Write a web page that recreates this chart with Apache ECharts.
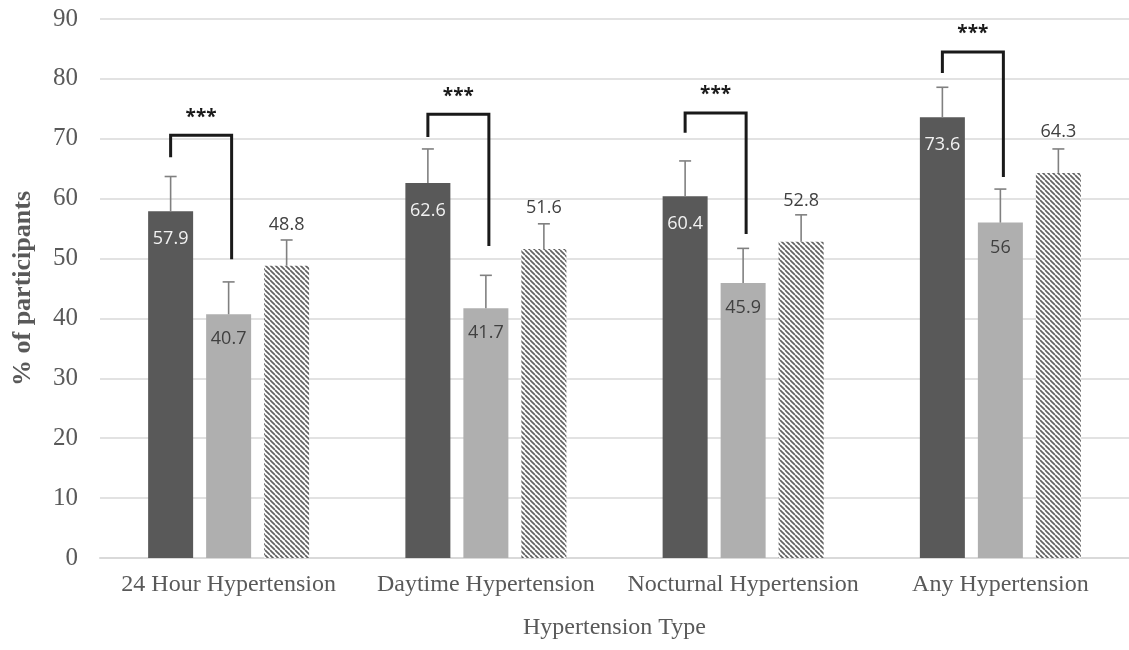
<!DOCTYPE html>
<html>
<head>
<meta charset="utf-8">
<style>
  html, body { margin: 0; padding: 0; background: #ffffff; }
  #chart { width: 1129px; height: 650px; }
</style>
<script src="https://cdn.jsdelivr.net/npm/echarts@6/dist/echarts.min.js"></script>
</head>
<body>
<div id="chart"></div>
<script>
// Hypertension prevalence by type, three groups per category
const categories = ['24 Hour Hypertension', 'Daytime Hypertension', 'Nocturnal Hypertension', 'Any Hypertension'];
const yTicks = [0, 10, 20, 30, 40, 50, 60, 70, 80, 90];

const darkValues = [57.9, 62.6, 60.4, 73.6];
const grayValues = [40.7, 41.7, 45.9, 56];
const hatchedValues = [48.8, 51.6, 52.8, 64.3];

// upper error bar lengths
const darkErrors = [5.8, 5.7, 5.9, 5.0];
const grayErrors = [5.4, 5.5, 5.8, 5.6];
const hatchedErrors = [4.3, 4.2, 4.5, 4.0];

// significance brackets between the dark and light grey bars
const bracketTop = [70.6, 74.1, 74.3, 84.5];
const bracketLeftEnd = [66.9, 70.3, 71.0, 81.0];
const bracketRightEnd = [49.9, 52.1, 54.1, 63.6];
const bracketMark = ['***', '***', '***', '***'];

const BAR_W = 45;
const BAR_GAP = 13;
const STEP = BAR_W + BAR_GAP;

const SERIF = '"Liberation Serif", "Times New Roman", serif';
const SANS = '"Open Sans", "Noto Sans", sans-serif';

// diagonal hatch tile
function hatchTile() {
  const s = 5;
  const c = document.createElement('canvas');
  c.width = s; c.height = s;
  const g = c.getContext('2d');
  g.fillStyle = '#ffffff';
  g.fillRect(0, 0, s, s);
  g.strokeStyle = '#626262';
  g.lineWidth = 1.7;
  for (const k of [-s, 0, s]) {
    g.beginPath();
    g.moveTo(k, 0);
    g.lineTo(k + s, s);
    g.stroke();
  }
  return c;
}

const errorData = [];
[darkValues, grayValues, hatchedValues].forEach((vals, k) => {
  const errs = [darkErrors, grayErrors, hatchedErrors][k];
  vals.forEach((v, i) => errorData.push([i, v, v + errs[i], k]));
});

const bracketData = categories.map((c, i) => [i, bracketTop[i], bracketLeftEnd[i], bracketRightEnd[i], bracketMark[i]]);

const chart = echarts.init(document.getElementById('chart'), null, { renderer: 'canvas' });

const option = {
  backgroundColor: '#ffffff',
  animation: false,
  grid: { left: 100, top: 19, width: 1033, height: 539, containLabel: false },
  xAxis: {
    type: 'category',
    data: categories,
    name: 'Hypertension Type',
    nameLocation: 'middle',
    nameGap: 58,
    nameTextStyle: { fontFamily: SERIF, fontSize: 24, color: '#595959' },
    axisLine: { lineStyle: { color: '#d9d9d9', width: 2 } },
    axisTick: { show: false },
    axisLabel: { interval: 0, fontFamily: SERIF, fontSize: 24, color: '#595959', margin: 15 }
  },
  yAxis: {
    type: 'value',
    min: yTicks[0],
    max: yTicks[yTicks.length - 1],
    interval: yTicks[1] - yTicks[0],
    name: '% of participants',
    nameLocation: 'middle',
    nameGap: 64,
    nameRotate: 90,
    nameTextStyle: { fontFamily: SERIF, fontSize: 26, fontWeight: 'bold', color: '#595959' },
    axisLine: { show: false },
    axisTick: { show: false },
    splitLine: { lineStyle: { color: '#d9d9d9', width: 1.5 } },
    axisLabel: { fontFamily: SERIF, fontSize: 25, color: '#595959', margin: 22 }
  },
  series: [
    {
      type: 'bar',
      data: darkValues,
      barWidth: BAR_W,
      barGap: (BAR_GAP / BAR_W * 100) + '%',
      itemStyle: { color: '#595959' },
      label: {
        show: true, position: 'insideTop', distance: 19,
        fontFamily: SANS, fontSize: 18, color: '#f2f2f2'
      }
    },
    {
      type: 'bar',
      data: grayValues,
      barWidth: BAR_W,
      barGap: (BAR_GAP / BAR_W * 100) + '%',
      itemStyle: { color: '#afafaf' },
      label: {
        show: true, position: 'insideTop', distance: 16,
        fontFamily: SANS, fontSize: 18, color: '#404040'
      }
    },
    {
      type: 'bar',
      data: hatchedValues,
      barWidth: BAR_W,
      barGap: (BAR_GAP / BAR_W * 100) + '%',
      itemStyle: { color: { image: hatchTile(), repeat: 'repeat' } },
      label: {
        show: true, position: 'top', distance: 32,
        fontFamily: SANS, fontSize: 18, color: '#404040'
      }
    },
    {
      type: 'custom',
      data: errorData,
      z: 5,
      silent: true,
      renderItem: function (params, api) {
        const k = api.value(3);
        const dx = (k - 1) * STEP;
        const base = api.coord([api.value(0), api.value(1)]);
        const top = api.coord([api.value(0), api.value(2)]);
        const x = base[0] + dx;
        const half = 6;
        const style = { stroke: '#808080', lineWidth: 1.6 };
        return {
          type: 'group',
          children: [
            { type: 'line', shape: { x1: x, y1: base[1], x2: x, y2: top[1] }, style: style },
            { type: 'line', shape: { x1: x - half, y1: top[1], x2: x + half, y2: top[1] }, style: style }
          ]
        };
      }
    },
    {
      type: 'custom',
      data: bracketData,
      z: 6,
      silent: true,
      renderItem: function (params, api) {
        const i = api.value(0);
        const pTop = api.coord([i, api.value(1)]);
        const pL = api.coord([i, api.value(2)]);
        const pR = api.coord([i, api.value(3)]);
        const xl = pTop[0] - STEP;
        const xr = pTop[0] + 3;
        return {
          type: 'group',
          children: [
            {
              type: 'polyline',
              shape: { points: [[xl, pL[1]], [xl, pTop[1]], [xr, pTop[1]], [xr, pR[1]]] },
              style: { stroke: '#1a1a1a', lineWidth: 3, fill: null, lineJoin: 'miter' }
            },
            {
              type: 'text',
              style: {
                x: (xl + xr) / 2, y: pTop[1] - 18,
                text: bracketData[params.dataIndex][4],
                align: 'center', verticalAlign: 'middle',
                font: 'bold 19px ' + SANS, fill: '#1a1a1a'
              }
            }
          ]
        };
      }
    }
  ]
};

chart.setOption(option);
</script>
</body>
</html>
